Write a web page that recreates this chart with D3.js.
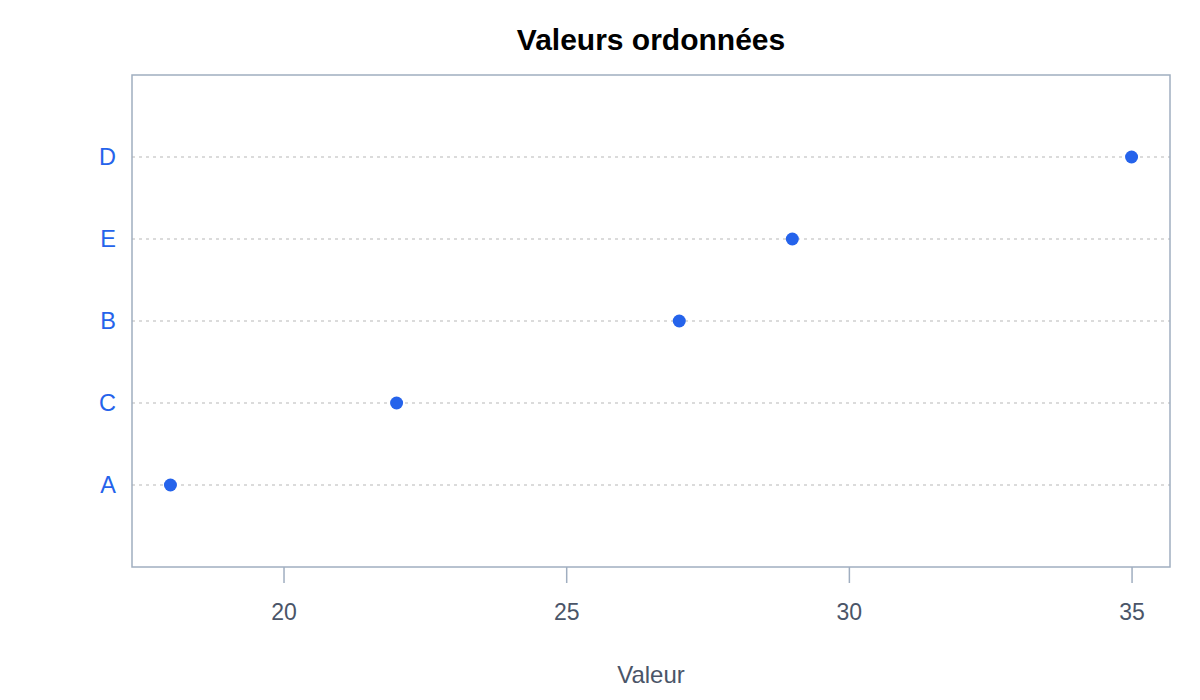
<!DOCTYPE html>
<html><head><meta charset="utf-8">
<script src="https://cdn.jsdelivr.net/npm/d3@7"></script>
<style>body{margin:0;background:#fff}svg{display:block}</style>
</head><body>
<svg id="c" width="1200" height="700"></svg>
<script>
const categories = ["A","C","B","E","D"];
const values = [18, 22, 27, 29, 35];
const xTicks = [20, 25, 30, 35];
const title = "Valeurs ordonnées";
const xLabel = "Valeur";

const svg = d3.select("#c");
const font = "'Liberation Sans', Arial, Helvetica, sans-serif";
const L = 132, R = 1170, T = 75, B = 567;
const x = d3.scaleLinear().domain([17.32, 35.68]).range([L, R]);
const y = d3.scaleLinear().domain([0, categories.length + 1]).range([B, T]);

svg.append("g").selectAll("line").data(categories).join("line")
  .attr("x1", L).attr("x2", R)
  .attr("y1", (d,i) => y(i+1)).attr("y2", (d,i) => y(i+1))
  .attr("stroke", "#b8b8b8").attr("stroke-width", 1.2).attr("stroke-dasharray", "3,4");

svg.append("rect").attr("x", L).attr("y", T).attr("width", R-L).attr("height", B-T)
  .attr("fill", "none").attr("stroke", "#a0aec0").attr("stroke-width", 1.5);

const ax = svg.append("g").attr("transform", `translate(0,${B})`)
  .call(d3.axisBottom(x).tickValues(xTicks).tickSize(16).tickPadding(21).tickFormat(d3.format("d")));
ax.select(".domain").remove();
ax.selectAll(".tick line").attr("stroke", "#a0aec0").attr("stroke-width", 1.5);
ax.selectAll(".tick text").attr("fill", "#4a5568").attr("font-size", 23).attr("font-family", font);

svg.append("g").selectAll("text").data(categories).join("text")
  .attr("x", 116).attr("y", (d,i) => y(i+1)).attr("dy", "0.36em")
  .attr("text-anchor", "end").attr("fill", "#2563eb")
  .attr("font-size", 23.5).attr("font-family", font).text(d => d);

svg.append("g").selectAll("circle").data(values).join("circle")
  .attr("cx", d => x(d)).attr("cy", (d,i) => y(i+1)).attr("r", 6.5)
  .attr("fill", "#2563eb");

svg.append("text").attr("x", 651).attr("y", 50).attr("text-anchor", "middle")
  .attr("font-size", 30).attr("font-weight", "bold").attr("font-family", font).attr("fill", "#000").text(title);

svg.append("text").attr("x", 651).attr("y", 683).attr("text-anchor", "middle")
  .attr("font-size", 24).attr("font-family", font).attr("fill", "#4a5568").text(xLabel);
</script>
</body></html>
